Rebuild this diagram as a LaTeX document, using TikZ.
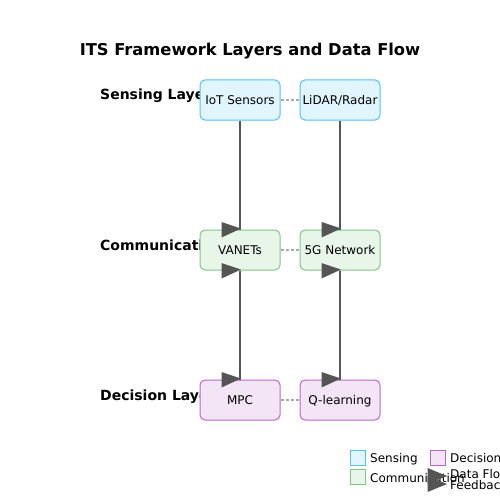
\documentclass[tikz,border=0pt]{standalone}
\usepackage{fontspec}
\setmainfont{DejaVu Sans}
\definecolor{sensfill}{HTML}{E1F5FE}
\definecolor{sensdraw}{HTML}{4FC3F7}
\definecolor{commfill}{HTML}{E8F5E9}
\definecolor{commdraw}{HTML}{81C784}
\definecolor{decfill}{HTML}{F3E5F5}
\definecolor{decdraw}{HTML}{BA68C8}
\definecolor{flowgray}{HTML}{555555}
\definecolor{linkgray}{HTML}{AAAAAA}
\begin{document}
\begin{tikzpicture}[x=1pt,y=-1pt,
  box/.style={rectangle, rounded corners=5pt, minimum width=80pt, minimum height=40pt,
    inner sep=0pt, line width=1pt, text height=9pt, text depth=0pt,
    font=\fontsize{12}{14}\selectfont},
  sens/.style={box, fill=sensfill, draw=sensdraw},
  comm/.style={box, fill=commfill, draw=commdraw},
  dec/.style={box, fill=decfill, draw=decdraw},
  layerlabel/.style={anchor=west, inner sep=0pt, text height=10pt, text depth=0pt,
    font=\fontsize{14}{16}\selectfont\bfseries},
  titletext/.style={inner sep=0pt, text height=11.9pt, text depth=0pt,
    font=\fontsize{16.3}{19}\selectfont\bfseries},
  legtext/.style={anchor=west, inner sep=0pt, text height=8.8pt, text depth=0pt,
    font=\fontsize{12}{14}\selectfont},
  legpatch/.style={rectangle, minimum width=15pt, minimum height=15pt, inner sep=0pt, line width=1pt},
  flow/.style={draw=flowgray, line width=1.5pt},
  link/.style={draw=linkgray, line width=1.5pt, dash pattern=on 3pt off 2pt},
  headtri/.pic={\fill[flowgray] (-18.5,-7.5) -- (-18.5,8) -- (1,-1) -- cycle;},
]
\useasboundingbox[fill=white] (0,0) rectangle (500,500);

% title
\node[titletext] (title) at (250,49.5) {ITS Framework Layers and Data Flow};

% layer labels
\node[layerlabel] (lsens) at (100,95) {Sensing Layer};
\node[layerlabel] (lcomm) at (100,245) {Communication Layer};
\node[layerlabel] (ldec) at (100,395) {Decision Layer};

% boxes
\node[sens] (iot) at (240,100) {IoT Sensors};
\node[sens] (lidar) at (340,100) {LiDAR/Radar};
\node[comm] (vanets) at (240,250) {VANETs};
\node[comm] (fiveg) at (340,250) {5G Network};
\node[dec] (mpc) at (240,400) {MPC};
\node[dec] (qlearn) at (340,400) {Q-learning};

% links inside layers
\draw[link] (iot) -- (lidar);
\draw[link] (vanets) -- (fiveg);
\draw[link] (mpc) -- (qlearn);

% data flow
\draw[flow] (iot.south) -- (vanets.north);
\draw[flow] (lidar.south) -- (fiveg.north);
\draw[flow] (vanets.south) -- (mpc.north);
\draw[flow] (fiveg.south) -- (qlearn.north);
\pic at (vanets.north) {headtri};
\pic at (fiveg.north) {headtri};
\pic at (vanets.south) {headtri};
\pic at (fiveg.south) {headtri};
\pic at (mpc.north) {headtri};
\pic at (qlearn.north) {headtri};

% legend
\node[legpatch, fill=sensfill, draw=sensdraw] (pSens) at (357.5,457.5) {};
\node[legpatch, fill=commfill, draw=commdraw] (pComm) at (357.5,477) {};
\node[legpatch, fill=decfill, draw=decdraw] (pDec) at (437.5,457.5) {};
\node[legtext] (tSens) at (370,457.6) {Sensing};
\node[legtext] (tComm) at (370,477.6) {Communication};
\node[legtext] (tDec) at (450,457.6) {Decision};
\coordinate (hFlow) at (447,476);
\coordinate (hBack) at (447,484);
\fill[flowgray] (hFlow) ++(-19.5,-8) -- ++(0,16) -- (hFlow) -- cycle;
\fill[flowgray] (hBack) ++(-19.5,-8) -- ++(0,16) -- (hBack) -- cycle;
\node[legtext] (tFlow) at (450,473.6) {Data Flow};
\node[legtext] (tBack) at (450,484.6) {Feedback};
\end{tikzpicture}
\end{document}
